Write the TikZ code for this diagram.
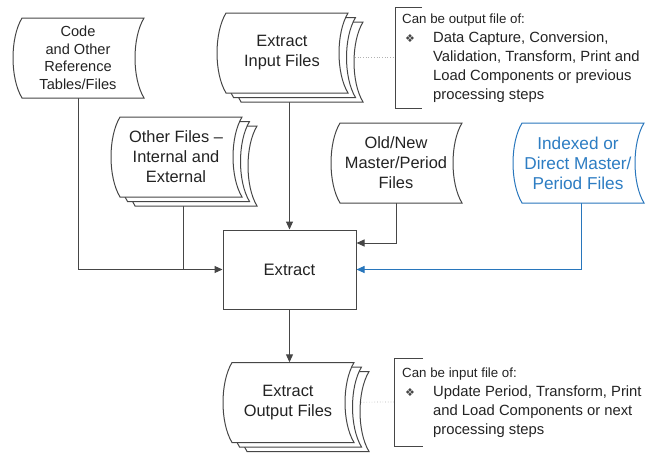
\documentclass[tikz,border=0pt]{standalone}
\usepackage{fontspec}
\setmainfont{Liberation Sans}
\newfontfamily\symfont{DejaVu Sans}
\usetikzlibrary{arrows.meta}
\definecolor{ln}{RGB}{70,70,70}
\definecolor{tx}{RGB}{35,35,35}
\definecolor{bl}{RGB}{40,118,188}
\definecolor{blt}{RGB}{45,125,195}
\pgfdeclarelayer{conn}
\pgfdeclarelayer{shp}
\pgfsetlayers{conn,shp,main}
\newcommand\sdpath{(-61,-40) -- (61,-40) .. controls (49,-20) and (49,20) .. (61,40) -- (-61,40) .. controls (-73,20) and (-73,-20) .. (-61,-40) -- cycle}
\newcommand\bul{\makebox[31pt][l]{\hspace{3pt}{\symfont\fontsize{11}{11}\selectfont\color{ln}❖}}}
\newcommand\ind{\hspace*{31pt}}
\newcommand\hd[1]{{\fontsize{13.3}{19}\selectfont #1}}
\begin{document}
\begin{tikzpicture}[x=1pt,y=-1pt,
  txt/.style={font=\fontsize{16.4}{20}\selectfont, text=tx, align=center, inner sep=0pt, minimum height=80pt, minimum width=100pt},
  sd/.style={draw=ln, fill=white, line width=1pt},
  con/.style={draw=ln, line width=1pt},
  arr/.style={con, -{Triangle[length=8pt,width=7pt]}},
  dots/.style={draw=gray!60, dotted, line width=0.7pt},
  brk/.style={draw=ln, line width=1pt},
  note/.style={font=\fontsize{14.8}{19}\selectfont, text=tx, align=left, inner sep=0pt, anchor=west}]
\useasboundingbox (0,0) rectangle (647,453);

% nodes
\node[txt, font=\fontsize{14.6}{17.5}\selectfont] (code) at (78,58) {Code\\and Other\\Reference\\Tables/Files};
\node[txt] (inp) at (282,53) {Extract\\Input Files};
\node[txt] (oth) at (176,157) {Other Files –\\Internal and\\External};
\node[txt] (old) at (396,163) {Old/New\\Master/Period\\Files};
\node[txt, text=blt, font=\fontsize{17.2}{20}\selectfont] (idx) at (578,163) {Indexed or\\Direct Master/\\Period Files};
\node[draw=ln, line width=1pt, minimum width=133pt, minimum height=79pt, inner sep=0pt,
      font=\fontsize{16.6}{20}\selectfont, text=tx] (ext) at (289.5,269.5) {Extract};
\node[txt] (out) at (288,402.5) {Extract\\Output Files};
\coordinate (extin) at ([yshift=26.5pt]ext.east);
\coordinate (b1) at (395,57.5);
\coordinate (b2) at (394,402);

% notes
\node[note] (n1) at (402,58.5) {\hd{Can be output file of:}\\\bul Data Capture, Conversion,\\\ind Validation, Transform, Print and\\\ind Load Components or previous\\\ind processing steps};
\node[note] (n2) at (402,403) {\hd{Can be input file of:}\\\bul Update Period, Transform, Print\\\ind and Load Components or next\\\ind processing steps};

% shapes
\begin{pgfonlayer}{shp}
\draw[sd, shift={(code.center)}, xshift=5pt] \sdpath;
\foreach \n in {inp,oth,out}{
  \foreach \o in {2,1,0}{
    \draw[sd, shift={(\n.center)}, xshift={5pt+\o*7.5pt}, yshift={-\o*4.5pt}] \sdpath;
  }
}
\draw[sd, shift={(old.center)}, xshift=5pt] \sdpath;
\draw[sd, draw=bl, shift={(idx.center)}, xshift=5pt] \sdpath;
\end{pgfonlayer}

% connectors
\begin{pgfonlayer}{conn}
\draw[arr] (code.south) |- (ext.west);
\draw[con] ([xshift=7pt]oth.south) -- ([xshift=7pt]oth.south |- ext.west);
\draw[arr] (inp.south -| ext.north) -- (ext.north);
\draw[arr] (old.south) |- (extin);
\draw[arr, draw=bl] ([xshift=3pt]idx.south) |- (ext.east);
\draw[arr] (ext.south) -- (ext.south |- out.north);
\draw[dots] ([yshift=-4.5pt]inp.center) -- (b1);
\draw[dots] (out.center) -- (b2);
\end{pgfonlayer}

% brackets
\draw[brk] (422,7) -- (395,7) -- (395,108) -- (422,108);
\draw[brk] (423,358) -- (394,358) -- (394,446) -- (423,446);
\end{tikzpicture}
\end{document}
